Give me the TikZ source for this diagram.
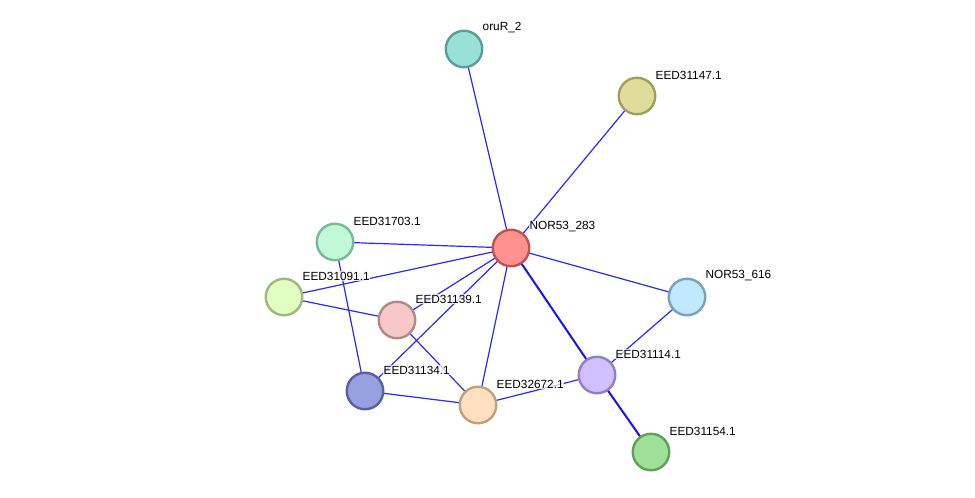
\documentclass[tikz,border=0pt]{standalone}
\usepackage{fontspec}
\setmainfont{Liberation Sans}
\begin{document}
\begin{tikzpicture}[x=1pt,y=-1pt,
  prot/.style={circle,minimum size=36.5pt,inner sep=0pt,line width=2.4pt},
  lab/.style={anchor=west,font=\fontsize{11.8}{14}\selectfont,inner sep=0.5pt,fill=white,fill opacity=0.75,text opacity=1},
  edge/.style={draw={rgb,255:red,40;green,40;blue,255},line width=1.2pt},
  strong/.style={draw={rgb,255:red,20;green,20;blue,240},line width=2pt}]
\useasboundingbox (0,0) rectangle (975,498);
\definecolor{fA}{HTML}{99E0D8}\definecolor{bA}{HTML}{5A9E96}
\definecolor{fB}{HTML}{DEDD99}\definecolor{bB}{HTML}{A0A05C}
\definecolor{fC}{HTML}{FF9191}\definecolor{bC}{HTML}{C05252}
\definecolor{fD}{HTML}{C0F8D8}\definecolor{bD}{HTML}{78B898}
\definecolor{fE}{HTML}{E0FFC0}\definecolor{bE}{HTML}{A0B880}
\definecolor{fF}{HTML}{F8C8C8}\definecolor{bF}{HTML}{B08888}
\definecolor{fG}{HTML}{C0E8FF}\definecolor{bG}{HTML}{78A0C0}
\definecolor{fH}{HTML}{D0C0FF}\definecolor{bH}{HTML}{9080C0}
\definecolor{fI}{HTML}{98A0E0}\definecolor{bI}{HTML}{5860A0}
\definecolor{fJ}{HTML}{FFE0C0}\definecolor{bJ}{HTML}{C0A080}
\definecolor{fK}{HTML}{A0E098}\definecolor{bK}{HTML}{60A058}
\coordinate (oru) at (464,49);
\coordinate (e47) at (637,96);
\coordinate (n283) at (511,248);
\coordinate (e703) at (335,242);
\coordinate (e091) at (284,297);
\coordinate (e139) at (397,320);
\coordinate (n616) at (687,297);
\coordinate (e114) at (597,375);
\coordinate (e134) at (365,391);
\coordinate (e672) at (478,405);
\coordinate (e154) at (651,452);
% edges
\path[edge] (n283) -- (oru);
\path[edge] (n283) -- (e47);
\path[edge] (n283) -- (e703);
\path[edge] (n283) -- (e091);
\path[edge] (n283) -- (e139);
\path[edge] (n283) -- (n616);
\path[strong] (n283) -- (e114);
\path[edge] (n283) -- (e134);
\path[edge] (n283) -- (e672);
\path[edge] (e703) -- (e134);
\path[edge] (e091) -- (e139);
\path[edge] (e139) -- (e672);
\path[edge] (e134) -- (e672);
\path[edge] (e672) -- (e114);
\path[edge] (e114) -- (n616);
\path[strong] (e114) -- (e154);
% nodes
\node[prot,fill=fA,draw=bA] (Noru) at (oru) {};
\node[prot,fill=fB,draw=bB] (Ne47) at (e47) {};
\node[prot,fill=fC,draw=bC] (Nn283) at (n283) {};
\node[prot,fill=fD,draw=bD] (Ne703) at (e703) {};
\node[prot,fill=fE,draw=bE] (Ne091) at (e091) {};
\node[prot,fill=fF,draw=bF] (Ne139) at (e139) {};
\node[prot,fill=fG,draw=bG] (Nn616) at (n616) {};
\node[prot,fill=fH,draw=bH] (Ne114) at (e114) {};
\node[prot,fill=fI,draw=bI] (Ne134) at (e134) {};
\node[prot,fill=fJ,draw=bJ] (Ne672) at (e672) {};
\node[prot,fill=fK,draw=bK] (Ne154) at (e154) {};
% labels
\node[lab] (Loru) at ([shift={(18,-21)}]oru) {oruR\_2};
\node[lab] (Le47) at ([shift={(18,-21)}]e47) {EED31147.1};
\node[lab] (Ln283) at ([shift={(18,-21)}]n283) {NOR53\_283};
\node[lab] (Le703) at ([shift={(18,-21)}]e703) {EED31703.1};
\node[lab] (Le091) at ([shift={(18,-21)}]e091) {EED31091.1};
\node[lab] (Le139) at ([shift={(18,-21)}]e139) {EED31139.1};
\node[lab] (Ln616) at ([shift={(18,-21)}]n616) {NOR53\_616};
\node[lab] (Le114) at ([shift={(18,-21)}]e114) {EED31114.1};
\node[lab] (Le134) at ([shift={(18,-21)}]e134) {EED31134.1};
\node[lab] (Le672) at ([shift={(18,-21)}]e672) {EED32672.1};
\node[lab] (Le154) at ([shift={(18,-21)}]e154) {EED31154.1};
\end{tikzpicture}
\end{document}
